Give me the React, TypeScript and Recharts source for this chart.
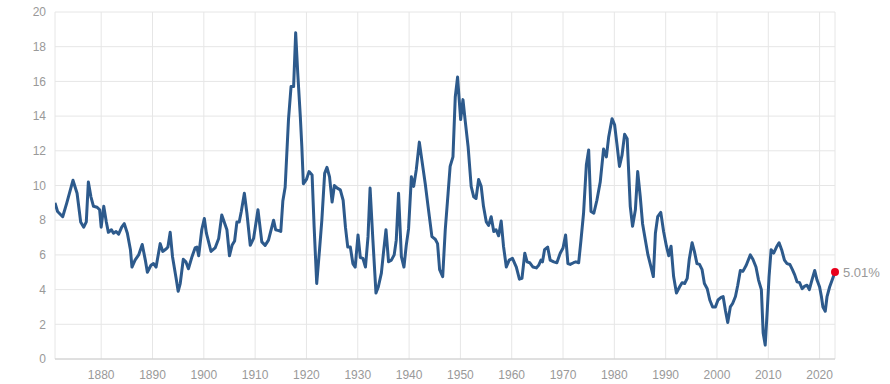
import React from "react";
import { LineChart, Line, XAxis, YAxis, CartesianGrid, ReferenceDot } from "recharts";

const years: number[] = [
  1871.0, 1871.5, 1872.5, 1873.3, 1874.5, 1875.3, 1876.0, 1876.6, 1877.1, 1877.5,
  1878.0, 1878.5, 1879.2, 1879.7, 1880.0, 1880.5, 1881.0, 1881.4, 1882.0, 1882.4,
  1882.9, 1883.4, 1884.0, 1884.5, 1885.1, 1885.7, 1886.0, 1886.6, 1887.3, 1888.0,
  1888.6, 1889.0, 1889.7, 1890.2, 1890.7, 1891.5, 1892.0, 1892.7, 1893.0, 1893.45,
  1893.9, 1894.6, 1895.0, 1895.4, 1896.0, 1896.5, 1897.0, 1897.7, 1898.3, 1898.65,
  1899.0, 1899.6, 1900.1, 1900.5, 1901.4, 1902.2, 1902.9, 1903.5, 1904.5, 1905.0,
  1905.5, 1906.0, 1906.45, 1906.9, 1907.3, 1907.9, 1908.4, 1909.05, 1909.7, 1910.55,
  1911.3, 1911.95, 1912.6, 1913.6, 1914.0, 1914.6, 1915.0, 1915.4, 1915.85, 1916.5,
  1917.0, 1917.5, 1917.9, 1918.3, 1918.8, 1919.1, 1919.4, 1920.0, 1920.5, 1921.1,
  1921.5, 1922.0, 1922.55, 1923.0, 1923.55, 1924.0, 1924.5, 1925.0, 1925.45, 1926.0,
  1926.6, 1927.15, 1927.6, 1928.05, 1928.55, 1929.05, 1929.5, 1930.05, 1930.5, 1931.0,
  1931.5, 1932.0, 1932.4, 1932.95, 1933.55, 1934.0, 1934.6, 1935.0, 1935.5, 1936.0,
  1936.55, 1937.1, 1937.5, 1937.95, 1938.5, 1939.0, 1939.45, 1939.9, 1940.45, 1940.9,
  1941.4, 1942.0, 1942.5, 1943.15, 1943.7, 1944.45, 1945.1, 1945.55, 1945.95, 1946.55,
  1947.05, 1947.6, 1948.0, 1948.55, 1949.0, 1949.45, 1950.05, 1950.5, 1950.95, 1951.5,
  1952.1, 1952.6, 1953.05, 1953.55, 1954.05, 1954.5, 1955.05, 1955.5, 1956.0, 1956.5,
  1956.95, 1957.45, 1957.95, 1958.4, 1958.95, 1959.5, 1960.15, 1960.9, 1961.5, 1962.0,
  1962.55, 1963.0, 1963.5, 1964.15, 1964.8, 1965.25, 1965.7, 1966.0, 1966.4, 1967.0,
  1967.5, 1968.2, 1968.8, 1969.45, 1970.0, 1970.5, 1970.95, 1971.4, 1972.05, 1972.5,
  1973.05, 1973.5, 1974.0, 1974.55, 1975.0, 1975.45, 1976.0, 1976.6, 1977.25, 1977.9,
  1978.45, 1978.9, 1979.55, 1980.05, 1980.5, 1981.0, 1981.5, 1982.0, 1982.5, 1983.1,
  1983.55, 1984.1, 1984.55, 1985.05, 1985.5, 1986.05, 1986.55, 1987.15, 1987.6, 1988.0,
  1988.45, 1989.05, 1989.6, 1990.15, 1990.6, 1991.05, 1991.55, 1992.1, 1992.7, 1993.2,
  1993.7, 1994.2, 1994.6, 1995.15, 1995.6, 1996.1, 1996.6, 1997.1, 1997.55, 1998.1,
  1998.6, 1999.15, 1999.7, 2000.2, 2000.8, 2001.2, 2001.65, 2002.1, 2002.6, 2003.05,
  2003.6, 2004.05, 2004.55, 2005.05, 2005.7, 2006.5, 2007.0, 2007.6, 2008.1, 2008.65,
  2009.0, 2009.4, 2009.8, 2010.15, 2010.55, 2011.05, 2011.6, 2012.1, 2012.6, 2013.15,
  2013.65, 2014.2, 2014.7, 2015.15, 2015.6, 2016.1, 2016.6, 2017.1, 2017.55, 2018.0,
  2018.5, 2019.05, 2019.5, 2020.0, 2020.35, 2020.65, 2021.1, 2021.45, 2021.95, 2022.5,
  2023.0,
];

const earningsYield: number[] = [
  9.0, 8.5, 8.2, 9.0, 10.3, 9.55, 7.9, 7.6, 7.9, 10.2,
  9.35, 8.8, 8.75, 8.6, 7.6, 8.8, 7.9, 7.3, 7.45, 7.25,
  7.35, 7.2, 7.6, 7.8, 7.25, 6.3, 5.3, 5.7, 6.0, 6.6,
  5.7, 5.0, 5.4, 5.5, 5.3, 6.65, 6.2, 6.35, 6.45, 7.3,
  5.9, 4.65, 3.9, 4.35, 5.75, 5.6, 5.2, 5.9, 6.4, 6.45,
  5.95, 7.45, 8.1, 7.25, 6.2, 6.4, 6.95, 8.3, 7.45, 5.95,
  6.55, 6.8, 7.9, 7.9, 8.5, 9.55, 8.4, 6.55, 6.95, 8.6,
  6.75, 6.55, 6.85, 8.0, 7.45, 7.4, 7.35, 9.1, 9.9, 13.8,
  15.7, 15.7, 18.8, 16.5, 14.0, 12.25, 10.1, 10.35, 10.8, 10.6,
  7.6, 4.35, 6.3, 8.0, 10.7, 11.05, 10.5, 9.05, 10.0, 9.85,
  9.75, 9.15, 7.6, 6.45, 6.45, 5.5, 5.3, 7.15, 5.85, 5.8,
  5.3, 7.05, 9.85, 6.85, 3.8, 4.15, 4.95, 6.1, 7.45, 5.6,
  5.7, 6.0, 6.85, 9.55, 5.9, 5.3, 6.55, 7.5, 10.5, 9.95,
  10.9, 12.5, 11.45, 10.1, 8.8, 7.05, 6.9, 6.65, 5.15, 4.75,
  7.45, 9.55, 11.1, 11.65, 15.1, 16.25, 13.8, 14.95, 13.7, 12.25,
  9.95, 9.35, 9.25, 10.35, 9.95, 8.8, 7.9, 7.7, 8.2, 7.35,
  7.45, 7.1, 7.95, 6.5, 5.3, 5.7, 5.8, 5.3, 4.6, 4.65,
  6.1, 5.6, 5.55, 5.3, 5.25, 5.4, 5.7, 5.6, 6.3, 6.45,
  5.7, 5.6, 5.55, 6.1, 6.4, 7.15, 5.5, 5.45, 5.55, 5.6,
  5.55, 6.85, 8.4, 11.2, 12.05, 8.5, 8.4, 9.15, 10.2, 12.1,
  11.65, 12.8, 13.85, 13.5, 12.4, 11.1, 11.75, 12.95, 12.7, 8.8,
  7.65, 8.6, 10.8, 9.35, 7.8, 6.85, 6.0, 5.3, 4.75, 7.25,
  8.2, 8.45, 7.35, 6.5, 5.95, 6.5, 4.75, 3.8, 4.15, 4.4,
  4.35, 4.65, 5.75, 6.7, 6.2, 5.5, 5.45, 5.15, 4.35, 4.05,
  3.4, 3.0, 3.0, 3.4, 3.55, 3.6, 2.8, 2.1, 3.0, 3.2,
  3.6, 4.25, 5.1, 5.05, 5.4, 6.0, 5.75, 5.3, 4.55, 4.0,
  1.5, 0.8, 2.8, 4.75, 6.3, 6.1, 6.45, 6.7, 6.3, 5.7,
  5.5, 5.45, 5.15, 4.85, 4.45, 4.4, 4.05, 4.2, 4.25, 4.0,
  4.55, 5.1, 4.55, 4.15, 3.6, 3.0, 2.75, 3.6, 4.15, 4.6,
  5.01,
];

const xTicks: number[] = [1880, 1890, 1900, 1910, 1920, 1930, 1940, 1950, 1960, 1970, 1980, 1990, 2000, 2010, 2020];
const yTicks: number[] = [0, 2, 4, 6, 8, 10, 12, 14, 16, 18, 20];
const lastLabel = "5.01%";

const data = years.map((y, i) => ({ year: y, value: earningsYield[i] }));
const last = data[data.length - 1];

const FONT = '"Liberation Sans", Arial, Helvetica, sans-serif';

const LastLabel = (props: any) => {
  const { viewBox } = props;
  const cx = viewBox.x + viewBox.width / 2;
  const cy = viewBox.y + viewBox.height / 2;
  return (
    <text x={cx + 8} y={cy} dy={4.5} fill="#999999" fontSize={13} fontFamily={FONT}>
      {lastLabel}
    </text>
  );
};

export default function App() {
  return (
    <div style={{ position: "absolute", left: 0, top: 0, width: 890, height: 384, background: "#fff" }}>
      <LineChart width={890} height={384} data={data} margin={{ top: 12, right: 55, bottom: 0, left: 0 }}>
        <CartesianGrid stroke="#e6e6e6" strokeWidth={1} vertical={true} horizontal={true} />
        <XAxis
          dataKey="year"
          type="number"
          domain={[1871, 2023]}
          ticks={xTicks}
          allowDataOverflow
          height={25}
          tickLine={false}
          tickSize={0}
          tickMargin={11}
          axisLine={{ stroke: "#cccccc" }}
          tick={{ fill: "#999999", fontSize: 12, fontFamily: FONT }}
          interval={0}
        />
        <YAxis
          type="number"
          domain={[0, 20]}
          ticks={yTicks}
          width={55}
          tickLine={false}
          tickSize={0}
          tickMargin={9}
          axisLine={false}
          tick={{ fill: "#999999", fontSize: 12, fontFamily: FONT }}
          interval={0}
        />
        <Line
          type="linear"
          dataKey="value"
          stroke="#2d5a8c"
          strokeWidth={3}
          dot={false}
          activeDot={false}
          isAnimationActive={false}
          strokeLinejoin="round"
        />
        <ReferenceDot
          x={last.year}
          y={last.value}
          r={4}
          fill="#e8001c"
          stroke="none"
          ifOverflow="visible"
          label={<LastLabel />}
        />
      </LineChart>
    </div>
  );
}
